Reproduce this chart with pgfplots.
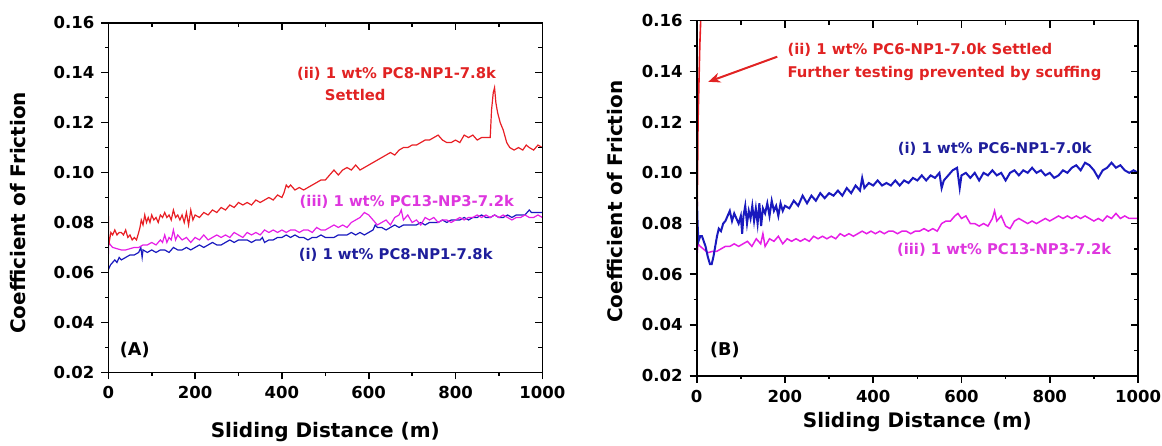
\documentclass[border=0pt]{standalone}
\usepackage{pgfplots}
\pgfplotsset{compat=1.18}
\usepackage{pgfplotstable}
\usetikzlibrary{arrows.meta}
\usepackage{fontspec}
\setmainfont{DejaVu Sans}

\definecolor{cred}{RGB}{232,30,36}
\definecolor{cblue}{RGB}{25,25,190}
\definecolor{cmag}{RGB}{230,30,230}
\definecolor{tred}{RGB}{225,35,35}
\definecolor{tblue}{RGB}{30,30,155}
\definecolor{tmag}{RGB}{222,55,222}

\pgfplotstableread{
x y
0 0.086
1 0.071
3 0.073
6 0.076
10 0.075
15 0.077
20 0.075
25 0.076
30 0.076
35 0.075
40 0.077
45 0.074
50 0.075
55 0.073
60 0.074
65 0.073
70 0.076
73 0.078
76 0.081
80 0.079
84 0.083
88 0.080
92 0.082
96 0.080
100 0.083
105 0.081
110 0.082
115 0.080
120 0.083
125 0.082
130 0.084
135 0.082
140 0.083
145 0.081
150 0.085
155 0.082
160 0.083
165 0.081
170 0.083
175 0.080
180 0.084
185 0.079
190 0.085
195 0.081
200 0.083
210 0.082
220 0.084
230 0.083
240 0.085
250 0.084
260 0.086
270 0.085
280 0.087
290 0.086
300 0.088
310 0.087
320 0.088
330 0.087
340 0.089
350 0.088
360 0.089
370 0.090
380 0.089
390 0.091
400 0.090
405 0.092
410 0.095
415 0.094
420 0.095
430 0.093
440 0.094
450 0.093
460 0.094
470 0.095
480 0.096
490 0.097
500 0.097
510 0.099
520 0.101
530 0.099
540 0.101
550 0.102
560 0.101
570 0.103
580 0.101
590 0.102
600 0.103
610 0.104
620 0.105
630 0.106
640 0.107
650 0.108
660 0.107
670 0.109
680 0.110
690 0.110
700 0.111
710 0.111
720 0.112
730 0.113
740 0.113
750 0.114
760 0.115
770 0.113
780 0.112
790 0.112
800 0.113
810 0.112
820 0.115
830 0.114
840 0.115
850 0.113
860 0.114
870 0.114
880 0.114
883 0.125
887 0.132
890 0.134
893 0.128
897 0.124
903 0.120
910 0.117
918 0.112
925 0.110
935 0.109
945 0.110
955 0.109
963 0.111
970 0.110
980 0.109
990 0.111
1000 0.110
}\redA

\pgfplotstableread{
x y
0 0.066
1 0.072
5 0.071
10 0.070
20 0.0695
30 0.069
40 0.069
50 0.0695
60 0.070
70 0.070
80 0.071
90 0.071
100 0.072
110 0.071
120 0.073
125 0.072
130 0.075
135 0.072
140 0.074
145 0.073
150 0.077
155 0.073
160 0.075
170 0.073
180 0.074
190 0.072
200 0.074
210 0.073
220 0.075
230 0.073
240 0.074
250 0.075
260 0.074
270 0.075
280 0.074
290 0.076
300 0.075
310 0.074
320 0.076
330 0.075
340 0.076
350 0.075
360 0.077
370 0.076
380 0.077
390 0.076
400 0.077
410 0.076
420 0.077
430 0.077
440 0.076
450 0.077
460 0.077
470 0.076
480 0.078
490 0.077
500 0.077
510 0.078
520 0.079
530 0.078
540 0.079
550 0.078
560 0.080
570 0.081
580 0.082
590 0.084
600 0.083
610 0.081
620 0.079
630 0.080
640 0.081
650 0.079
660 0.082
670 0.083
675 0.085
680 0.081
690 0.083
700 0.080
710 0.081
720 0.079
730 0.082
740 0.081
750 0.082
760 0.080
770 0.081
780 0.081
790 0.080
800 0.081
810 0.082
820 0.081
830 0.082
840 0.082
850 0.083
860 0.082
870 0.083
880 0.082
890 0.083
900 0.082
910 0.083
920 0.082
930 0.081
940 0.082
950 0.082
960 0.083
970 0.082
980 0.082
990 0.083
1000 0.082
}\magA

\pgfplotstableread{
x y
0 0.061
5 0.063
10 0.064
15 0.065
20 0.064
25 0.066
30 0.065
40 0.066
50 0.067
60 0.067
70 0.068
75 0.070
78 0.066
80 0.069
90 0.068
100 0.069
110 0.068
120 0.069
130 0.069
140 0.068
150 0.070
160 0.069
170 0.069
180 0.070
190 0.069
200 0.070
210 0.071
220 0.070
230 0.071
240 0.072
250 0.071
260 0.071
270 0.072
280 0.073
290 0.072
300 0.073
310 0.073
320 0.073
330 0.072
340 0.073
350 0.073
355 0.074
360 0.072
370 0.073
380 0.073
390 0.074
400 0.074
410 0.075
420 0.074
430 0.075
440 0.074
450 0.074
460 0.073
470 0.074
480 0.074
490 0.075
500 0.074
510 0.074
520 0.074
530 0.075
540 0.075
550 0.075
560 0.076
570 0.075
580 0.076
590 0.075
600 0.076
610 0.077
615 0.079
620 0.078
630 0.078
640 0.077
650 0.078
660 0.079
670 0.078
680 0.079
690 0.079
700 0.079
710 0.079
720 0.080
730 0.079
740 0.080
750 0.080
760 0.080
770 0.081
780 0.080
790 0.081
800 0.081
810 0.081
820 0.082
830 0.081
840 0.082
850 0.082
860 0.083
870 0.082
880 0.082
890 0.083
900 0.082
910 0.082
920 0.083
930 0.082
940 0.083
950 0.083
960 0.083
970 0.085
975 0.084
980 0.084
990 0.084
1000 0.084
}\blueA

\pgfplotstableread{
x y
0 0.093
2 0.080
4 0.073
8 0.075
12 0.075
16 0.073
20 0.071
25 0.067
30 0.064
34 0.064
38 0.067
42 0.071
46 0.075
50 0.078
55 0.077
60 0.080
65 0.081
70 0.083
75 0.085
80 0.081
85 0.084
90 0.082
95 0.080
100 0.083
103 0.076
106 0.083
110 0.087
114 0.080
118 0.085
122 0.082
126 0.087
130 0.081
134 0.086
138 0.080
142 0.088
146 0.079
150 0.086
155 0.084
160 0.088
165 0.083
170 0.089
175 0.085
180 0.087
185 0.083
190 0.088
195 0.085
200 0.087
210 0.086
220 0.089
230 0.087
240 0.091
250 0.088
260 0.091
270 0.089
280 0.092
290 0.090
300 0.092
310 0.091
320 0.093
330 0.091
340 0.094
350 0.092
360 0.095
370 0.093
375 0.098
380 0.094
390 0.096
400 0.095
410 0.097
420 0.095
430 0.096
440 0.095
450 0.097
460 0.095
470 0.097
480 0.096
490 0.098
500 0.097
510 0.099
520 0.097
530 0.099
540 0.098
550 0.100
555 0.094
560 0.097
570 0.099
580 0.101
590 0.102
596 0.094
600 0.099
610 0.100
620 0.098
630 0.100
640 0.097
650 0.100
660 0.099
670 0.101
680 0.099
690 0.100
700 0.097
710 0.100
720 0.101
730 0.099
740 0.101
750 0.100
760 0.102
770 0.100
780 0.101
790 0.099
800 0.100
810 0.098
820 0.099
830 0.101
840 0.100
850 0.102
860 0.103
870 0.101
880 0.104
890 0.103
900 0.101
910 0.098
920 0.101
930 0.102
940 0.104
950 0.102
960 0.103
970 0.101
980 0.100
990 0.101
1000 0.100
}\blueB

\pgfplotstableread{
x y
0 0.066
3 0.072
8 0.071
15 0.070
25 0.0685
35 0.069
45 0.069
55 0.070
65 0.071
75 0.071
85 0.072
95 0.071
105 0.072
115 0.073
125 0.071
135 0.074
145 0.072
150 0.076
155 0.071
165 0.074
175 0.073
185 0.075
195 0.072
205 0.074
215 0.073
225 0.074
235 0.073
245 0.074
255 0.073
265 0.075
275 0.074
285 0.075
295 0.074
305 0.075
315 0.074
325 0.076
335 0.075
345 0.076
355 0.075
365 0.076
375 0.077
385 0.076
395 0.077
405 0.076
415 0.077
425 0.076
435 0.077
445 0.077
455 0.076
465 0.077
475 0.077
485 0.076
495 0.077
505 0.077
515 0.078
525 0.077
535 0.078
545 0.077
555 0.080
565 0.081
575 0.081
585 0.083
592 0.084
600 0.082
610 0.083
620 0.080
630 0.080
640 0.079
650 0.080
660 0.079
670 0.082
675 0.085
680 0.081
690 0.083
700 0.079
710 0.078
720 0.081
730 0.082
740 0.081
750 0.080
760 0.081
770 0.080
780 0.081
790 0.082
800 0.081
810 0.082
820 0.083
830 0.082
840 0.083
850 0.082
860 0.083
870 0.082
880 0.083
890 0.082
900 0.081
910 0.082
920 0.081
930 0.083
940 0.082
950 0.084
960 0.082
970 0.083
980 0.082
990 0.082
1000 0.082
}\magB

\pgfplotstableread{
x y
0 0.070
1 0.085
2 0.100
3 0.120
5 0.135
7 0.150
9 0.160
10 0.170
}\redB

\tikzset{ann/.style={font=\bfseries\fontsize{7.4}{8.5}\selectfont, inner sep=0pt},
         pan/.style={font=\bfseries\fontsize{8.8}{10}\selectfont, inner sep=0pt}}

\pgfplotsset{
  cofbase/.style={
    scale only axis,
    anchor=south west,
    xmin=0, xmax=1000, ymin=0.02, ymax=0.16,
    xtick={0,200,...,1000},
    ytick={0.02,0.04,0.06,0.08,0.10,0.12,0.14,0.16},
    minor x tick num=1, minor y tick num=1,
    axis line style={line width=0.8pt},
    every tick/.style={black, line width=0.8pt},
    clip mode=individual,
  },
  cofmain/.style={
    cofbase,
    tick align=outside,
    xtick pos=bottom, ytick pos=left,
    major tick length=3.5pt, minor tick length=1.6pt,
    /pgf/number format/assume math mode=true,
    tick label style={font=\bfseries\fontsize{8.25}{9}\selectfont},
    xticklabel style={/pgf/number format/.cd, 1000 sep={}},
    yticklabel style={/pgf/number format/.cd, fixed, fixed zerofill, precision=2},
    label style={font=\bfseries\fontsize{10}{12}\selectfont},
  },
  cofover/.style={
    cofbase,
    tick align=inside,
    xtick pos=top, ytick pos=right,
    major tick length=3.5pt, minor tick length=2pt,
    xticklabels={}, yticklabels={},
  },
}

\begin{document}
\begin{tikzpicture}
\useasboundingbox (0,0) rectangle (581pt,222.5pt);
% ---------- panel A ----------
\begin{axis}[cofmain, at={(54.15pt,36.35pt)}, width=217pt, height=174.8pt,
  xlabel={Sliding Distance (m)}, ylabel={Coefficient of Friction},
  xlabel style={at={(axis description cs:0.5,-0.17)}, anchor=center},
  ylabel style={at={(axis description cs:-0.207,0.456)}, anchor=center}]
\addplot[cblue, line width=0.6pt] table {\blueA};
\addplot[cmag, line width=0.6pt] table {\magA};
\addplot[cred, line width=0.6pt] table {\redA};
\node[ann, text=tred, anchor=west] at (axis cs:434,0.1397) {(ii) 1 wt\% PC8-NP1-7.8k};
\node[ann, text=tred, anchor=center] at (axis cs:569,0.1310) {Settled};
\node[ann, text=tmag, anchor=west] at (axis cs:440,0.0883) {(iii) 1 wt\% PC13-NP3-7.2k};
\node[ann, text=tblue, anchor=west] at (axis cs:438,0.0670) {(i) 1 wt\% PC8-NP1-7.8k};
\node[pan, text=black, anchor=center] at (axis cs:61,0.0289) {(A)};
\end{axis}
\begin{axis}[cofover, at={(54.15pt,36.35pt)}, width=217pt, height=174.8pt]
\end{axis}
% ---------- panel B ----------
\begin{axis}[cofmain, at={(348.35pt,34.65pt)}, width=220.65pt, height=177.5pt,
  xlabel={Sliding Distance (m)}, ylabel={Coefficient of Friction},
  xlabel style={at={(axis description cs:0.5,-0.13)}, anchor=center},
  ylabel style={at={(axis description cs:-0.1845,0.49)}, anchor=center}]
\addplot[cmag, line width=0.75pt] table {\magB};
\addplot[cblue, line width=1pt] table {\blueB};
\addplot[cred, line width=0.8pt] table {\redB};
\draw[tred, line width=1pt, -{Stealth[length=6pt,width=5pt]}] (axis cs:182.6,0.1458) -- (axis cs:26.3,0.1359);
\node[ann, text=tred, anchor=west] at (axis cs:205,0.1484) {(ii) 1 wt\% PC6-NP1-7.0k Settled};
\node[ann, text=tred, anchor=west] at (axis cs:205,0.1390) {Further testing prevented by scuffing};
\node[ann, text=tblue, anchor=west] at (axis cs:455,0.1094) {(i) 1 wt\% PC6-NP1-7.0k};
\node[ann, text=tmag, anchor=west] at (axis cs:453,0.0696) {(iii) 1 wt\% PC13-NP3-7.2k};
\node[pan, text=black, anchor=center] at (axis cs:64,0.0302) {(B)};
\end{axis}
\begin{axis}[cofover, at={(348.35pt,34.65pt)}, width=220.65pt, height=177.5pt]
\end{axis}
\end{tikzpicture}
\end{document}
